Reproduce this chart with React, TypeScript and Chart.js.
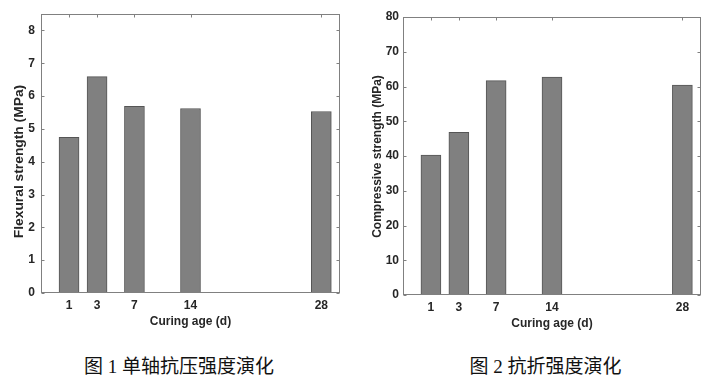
import React, { useEffect, useRef } from 'react';
import { Chart, registerables } from 'chart.js';
Chart.register(...registerables);

const ageLabels = ['1', '3', '7', '14', '28'];
const agePositions = [1, 4, 8, 14, 28];
const flexural = [4.74, 6.59, 5.69, 5.62, 5.53];
const compressive = [40.3, 46.8, 61.7, 62.7, 60.4];
const flexTicks = [0, 1, 2, 3, 4, 5, 6, 7, 8];
const compTicks = [0, 10, 20, 30, 40, 50, 60, 70, 80];
const captions = ['图 1 单轴抗压强度演化', '图 2 抗折强度演化'];

const TEXT = '#262626';
const FAMILY = '"Liberation Sans", Arial, sans-serif';
const FONT = { family: FAMILY, size: 12, weight: 'bold' as const };

const boxPlugin = {
  id: 'matlabBox',
  afterDatasetsDraw(chart: any) {
    const { ctx, chartArea: a, scales } = chart;
    const L = Math.round(a.left) + 0.5;
    const R = Math.round(a.right) - 0.5;
    const T = Math.round(a.top) + 0.5;
    const B = Math.round(a.bottom) - 0.5;
    ctx.save();
    ctx.strokeStyle = '#808080';
    ctx.lineWidth = 1;
    ctx.strokeRect(L, T, R - L, B - T);
    ctx.beginPath();
    for (const t of scales.x.ticks) {
      const px = Math.round(scales.x.getPixelForValue(t.value)) + 0.5;
      ctx.moveTo(px, B); ctx.lineTo(px, B - 3);
      ctx.moveTo(px, T); ctx.lineTo(px, T + 3);
    }
    for (const t of scales.y.ticks) {
      const py = Math.round(scales.y.getPixelForValue(t.value)) + 0.5;
      ctx.moveTo(L, py); ctx.lineTo(L + 3, py);
      ctx.moveTo(R, py); ctx.lineTo(R - 3, py);
    }
    ctx.stroke();
    ctx.restore();
  },
};

type PanelProps = {
  values: number[];
  yTicks: number[];
  yMax: number;
  yTitle: string;
  padTop: number;
  padRight: number;
  xHeight: number;
  xTitlePad: number;
  yTickPad: number;
  yTitleX: number;
  yTitleY: number;
  yTitleStretch: number;
};

function Panel(p: PanelProps) {
  const ref = useRef<HTMLCanvasElement>(null);
  useEffect(() => {
    if (!ref.current) return;
    const yTitlePlugin = {
      id: 'yTitle',
      afterDraw(chart: any) {
        const { ctx } = chart;
        ctx.save();
        ctx.translate(p.yTitleX, p.yTitleY);
        ctx.rotate(-Math.PI / 2);
        ctx.scale(p.yTitleStretch, 1);
        ctx.font = `bold 12px ${FAMILY}`;
        ctx.fillStyle = TEXT;
        ctx.textAlign = 'center';
        ctx.textBaseline = 'middle';
        ctx.fillText(p.yTitle, 0, 0);
        ctx.restore();
      },
    };
    const chart = new Chart(ref.current, {
      type: 'bar',
      data: {
        datasets: [
          {
            data: agePositions.map((x, i) => ({ x, y: p.values[i] })),
            backgroundColor: '#808080',
            borderColor: '#555555',
            borderWidth: 1,
            barThickness: 20,
          },
        ],
      },
      options: {
        animation: false,
        responsive: false,
        maintainAspectRatio: false,
        layout: { padding: { top: p.padTop, right: p.padRight, left: 0, bottom: 0 } },
        plugins: { legend: { display: false }, tooltip: { enabled: false } },
        scales: {
          x: {
            type: 'linear',
            offset: false,
            min: -2,
            max: 30,
            grid: { display: false, drawTicks: false },
            border: { display: false },
            afterBuildTicks: (s: any) => {
              s.ticks = agePositions.map((v) => ({ value: v }));
            },
            afterFit: (s: any) => {
              s.height = p.xHeight;
            },
            ticks: {
              autoSkip: false,
              maxRotation: 0,
              padding: 5,
              color: TEXT,
              font: FONT,
              callback: (_v: any, i: number) => ageLabels[i],
            },
            title: {
              display: true,
              text: 'Curing age (d)',
              color: TEXT,
              font: FONT,
              padding: { top: 0, bottom: p.xTitlePad },
            },
          },
          y: {
            type: 'linear',
            min: 0,
            max: p.yMax,
            grid: { display: false, drawTicks: false },
            border: { display: false },
            afterBuildTicks: (s: any) => {
              s.ticks = p.yTicks.map((v) => ({ value: v }));
            },
            afterFit: (s: any) => {
              s.width = 41;
            },
            ticks: { padding: p.yTickPad, color: TEXT, font: FONT },
            title: { display: false },
          },
        },
      } as any,
      plugins: [boxPlugin, yTitlePlugin],
    });
    return () => chart.destroy();
  }, []);
  return <canvas ref={ref} width={362} height={340} style={{ display: 'block', width: 362, height: 340 }} />;
}

export default function App() {
  const capStyle: React.CSSProperties = {
    position: 'absolute',
    top: 355,
    fontFamily: '"Liberation Serif", "Noto Sans CJK SC", serif',
    fontSize: 19,
    lineHeight: '24px',
    color: '#111',
    textAlign: 'center',
    whiteSpace: 'nowrap',
  };
  return (
    <div style={{ position: 'absolute', left: 0, top: 0, width: 724, height: 385, background: '#fff', overflow: 'hidden' }}>
      <div style={{ position: 'absolute', left: 0, top: 0 }}>
        <Panel values={flexural} yTicks={flexTicks} yMax={8.5} yTitle="Flexural strength (MPa)" padTop={14} padRight={22} xHeight={47} xTitlePad={11} yTickPad={6} yTitleX={20} yTitleY={161.5} yTitleStretch={1.15} />
      </div>
      <div style={{ position: 'absolute', left: 362, top: 0 }}>
        <Panel values={compressive} yTicks={compTicks} yMax={80} yTitle="Compressive strength (MPa)" padTop={17} padRight={23} xHeight={45} xTitlePad={9.5} yTickPad={4} yTitleX={16} yTitleY={156.5} yTitleStretch={1.0} />
      </div>
      <div style={{ ...capStyle, left: 0, width: 358 }}>{captions[0]}</div>
      <div style={{ ...capStyle, left: 367, width: 357 }}>{captions[1]}</div>
    </div>
  );
}
